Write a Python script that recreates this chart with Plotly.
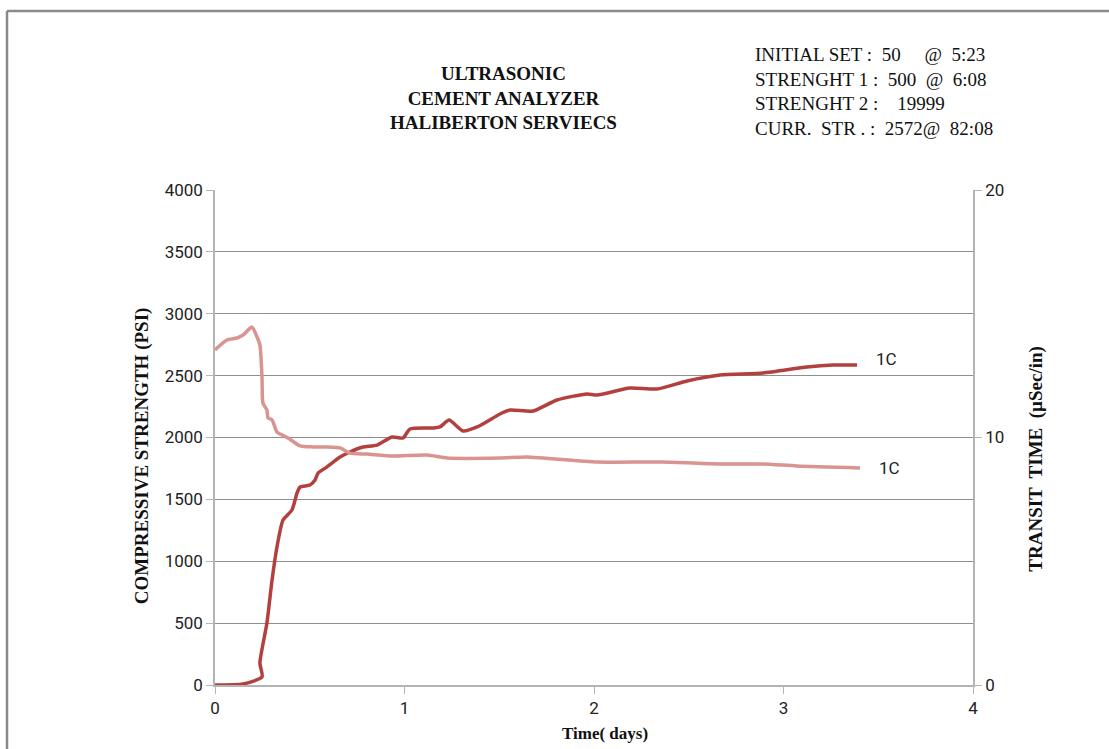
import plotly.graph_objects as go

# Compressive strength (psi) versus elapsed time (days)
strength_days = [0.0, 0.148, 0.248, 0.237, 0.274, 0.301, 0.327, 0.359, 0.406, 0.433,
                 0.449, 0.501, 0.528, 0.544, 0.591, 0.660, 0.712, 0.781, 0.855, 0.934,
                 0.992, 1.029, 1.150, 1.187, 1.235, 1.309, 1.383, 1.504, 1.557, 1.678,
                 1.805, 1.963, 2.016, 2.190, 2.332, 2.491, 2.665, 2.892, 3.124, 3.261,
                 3.388]
strength_psi = [0, 8, 65, 178, 501, 848, 1115, 1333, 1414, 1552,
                1600, 1616, 1657, 1713, 1762, 1842, 1883, 1923, 1939, 2004,
                1996, 2069, 2077, 2085, 2141, 2053, 2085, 2190, 2222, 2214,
                2303, 2352, 2343, 2400, 2392, 2457, 2505, 2521, 2570, 2586,
                2586]

# Transit time (µSec/in) versus elapsed time (days)
transit_days = [0.0, 0.063, 0.116, 0.148, 0.195, 0.222, 0.237, 0.248, 0.253, 0.274,
                0.280, 0.301, 0.327, 0.354, 0.385, 0.449, 0.517, 0.591, 0.660, 0.712,
                0.802, 0.939, 1.119, 1.224, 1.504, 1.646, 2.016, 2.364, 2.665, 2.892,
                3.071, 3.404]
transit_us = [13.54, 13.94, 14.02, 14.14, 14.46, 14.06, 13.74, 12.44, 11.39, 11.11,
              10.79, 10.71, 10.22, 10.10, 9.98, 9.66, 9.62, 9.62, 9.58, 9.37,
              9.33, 9.25, 9.29, 9.17, 9.17, 9.21, 9.01, 9.01, 8.93, 8.93,
              8.85, 8.77]

series_label = "1C"
title_lines = ["ULTRASONIC", "CEMENT ANALYZER", "HALIBERTON SERVIECS"]
info_lines = ["INITIAL SET :  50     @  5:23",
              "STRENGHT 1 :  500  @  6:08",
              "STRENGHT 2 :    19999",
              "CURR.  STR . :  2572@  82:08"]

strength_color = "#B3403F"
transit_color = "#D99391"
grid_color = "#8E8E8E"
axis_color = "#B4B4B4"
tick_font = dict(family="Liberation Sans Narrow, Roboto, Arial", size=17, color="#222222")
serif = "Liberation Serif, Times New Roman, serif"

fig = go.Figure()
fig.add_trace(go.Scatter(
    x=strength_days, y=strength_psi, mode="lines", yaxis="y",
    line=dict(color=strength_color, width=3.5, shape="spline", smoothing=0.6),
    showlegend=False, hoverinfo="skip"))
fig.add_trace(go.Scatter(
    x=transit_days, y=transit_us, mode="lines", yaxis="y2",
    line=dict(color=transit_color, width=3.5, shape="spline", smoothing=0.6),
    showlegend=False, hoverinfo="skip"))

annotations = [
    dict(x=strength_days[-1], y=strength_psi[-1], xref="x", yref="y",
         text=series_label, showarrow=False, xanchor="left", xshift=17, yshift=6,
         font=tick_font),
    dict(x=transit_days[-1], y=transit_us[-1], xref="x", yref="y2",
         text=series_label, showarrow=False, xanchor="left", xshift=17, yshift=0,
         font=tick_font),
    dict(x=0.38, y=1.186, xref="paper", yref="paper",
         text="<br>".join(f"<b>{t}</b>" for t in title_lines),
         showarrow=False, xanchor="center", yanchor="middle", align="center",
         font=dict(family=serif, size=19, color="#111111")),
    dict(x=0.71, y=1.198, xref="paper", yref="paper",
         text="<br>".join(info_lines),
         showarrow=False, xanchor="left", yanchor="middle", align="left",
         font=dict(family=serif, size=19, color="#111111")),
    dict(x=0.514, y=-0.097, xref="paper", yref="paper",
         text="<b>Time( days)</b>", showarrow=False, xanchor="center", yanchor="middle",
         font=dict(family=serif, size=17, color="#111111")),
    dict(x=-0.097, y=0.463, xref="paper", yref="paper",
         text="<b>COMPRESSIVE STRENGTH (PSI)</b>", showarrow=False, textangle=-90,
         xanchor="center", yanchor="middle",
         font=dict(family=serif, size=19, color="#111111")),
    dict(x=1.083, y=0.457, xref="paper", yref="paper",
         text="<b>TRANSIT  TIME  (µSec/in)</b>", showarrow=False, textangle=-90,
         xanchor="center", yanchor="middle",
         font=dict(family=serif, size=19, color="#111111")),
]

fig.update_layout(
    width=1109, height=749,
    margin=dict(l=215, r=136, t=190, b=64),
    paper_bgcolor="white", plot_bgcolor="white",
    xaxis=dict(range=[0, 4], dtick=1, showgrid=False, zeroline=False,
               showline=True, linecolor=axis_color, linewidth=1.5,
               ticks="outside", ticklen=7, tickcolor=axis_color,
               tickfont=tick_font),
    yaxis=dict(range=[0, 4000], dtick=500, showgrid=True, gridcolor=grid_color,
               gridwidth=1, zeroline=False, showline=True, linecolor=axis_color,
               linewidth=1.5, ticks="outside", ticklen=7, tickcolor=axis_color,
               tickfont=tick_font),
    yaxis2=dict(range=[0, 20], dtick=10, overlaying="y", side="right",
                showgrid=False, zeroline=False, showline=True, linecolor=axis_color,
                linewidth=1.5, ticks="outside", ticklen=7, tickcolor=axis_color,
                tickfont=tick_font),
    annotations=annotations,
    shapes=[
        dict(type="line", xref="paper", yref="paper", x0=-0.2744, x1=1.3,
             y0=1.3616, y1=1.3616, line=dict(color="#8A8A8A", width=2.5)),
        dict(type="line", xref="paper", yref="paper", x0=-0.2744, x1=-0.2744,
             y0=1.3616, y1=-0.2, line=dict(color="#8A8A8A", width=2.5)),
    ],
)

fig.write_html("out.html")
